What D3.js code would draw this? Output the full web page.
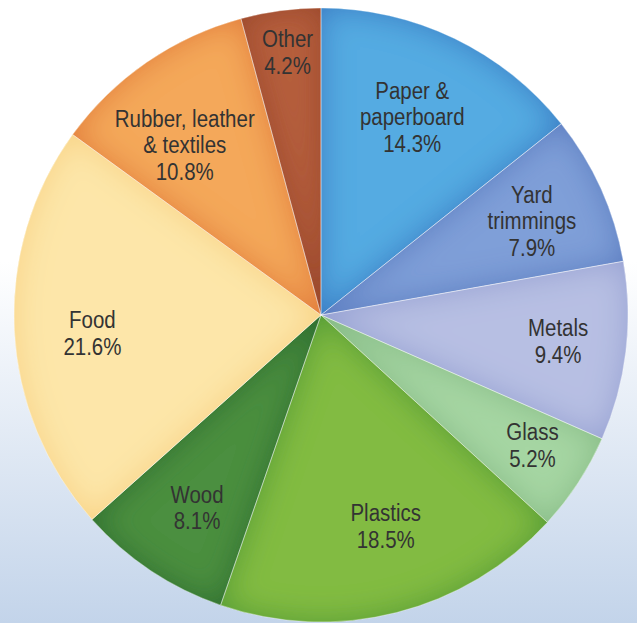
<!DOCTYPE html>
<html>
<head>
<meta charset="utf-8">
<script src="https://cdn.jsdelivr.net/npm/d3@7"></script>
<style>
  html, body { margin: 0; padding: 0; background: #fff; }
  svg { display: block; }
</style>
</head>
<body>
<svg id="chart" width="637" height="623"></svg>
<script>
// Municipal solid waste composition, share of total (%)
const categories = ["Paper & paperboard", "Yard trimmings", "Metals", "Glass", "Plastics", "Wood", "Food", "Rubber, leather & textiles", "Other"];
const values = [14.3, 7.9, 9.4, 5.2, 18.5, 8.1, 21.6, 10.8, 4.2];
const labelLines = [
  ["Paper &", "paperboard", "14.3%"],
  ["Yard", "trimmings", "7.9%"],
  ["Metals", "9.4%"],
  ["Glass", "5.2%"],
  ["Plastics", "18.5%"],
  ["Wood", "8.1%"],
  ["Food", "21.6%"],
  ["Rubber, leather", "& textiles", "10.8%"],
  ["Other", "4.2%"]
];
// fill colour and darker edge tone for each slice
const fills = ["#55abe2", "#7f9fd8", "#b7bfe3", "#a6d6a3", "#82bb42", "#4b8f40", "#fde6a9", "#f4a85a", "#b65f3c"];
const edges = ["#3a78c2", "#5a7cc0", "#95a0d2", "#86bb86", "#4f9a36", "#2d6d30", "#f8d283", "#e17a3a", "#99472c"];
// label placement: distance from centre (fraction of radius) and angular nudge (degrees)
const labelRadius = [0.710, 0.752, 0.777, 0.809, 0.720, 0.746, 0.747, 0.709, 0.862];
const labelShift = [-1.0, 0.3, -0.5, -1.5, -2.8, -0.9, -1.7, -4.2, 0.3];

const W = 637, H = 623;
const cx = 321, cy = 315, R = 307;
const lineH = 26.5, capShift = 8.2, squeeze = 0.89;

const svg = d3.select("#chart");
const defs = svg.append("defs");

// page background: white fading to pale blue
const bg = defs.append("linearGradient").attr("id", "bg")
  .attr("x1", 0).attr("y1", 0).attr("x2", 0).attr("y2", 1);
bg.append("stop").attr("offset", "0%").attr("stop-color", "#ffffff");
bg.append("stop").attr("offset", "42%").attr("stop-color", "#ffffff");
bg.append("stop").attr("offset", "100%").attr("stop-color", "#c3d4ea");
svg.append("rect").attr("width", W).attr("height", H).attr("fill", "url(#bg)");

// inner shading filter per slice: edges darken toward the slice outline
edges.forEach((c, i) => {
  const f = defs.append("filter").attr("id", "shade" + i)
    .attr("x", "-10%").attr("y", "-10%").attr("width", "120%").attr("height", "120%");
  f.append("feGaussianBlur").attr("in", "SourceAlpha").attr("stdDeviation", 16).attr("result", "blur");
  const ct = f.append("feComponentTransfer").attr("in", "blur").attr("result", "inv");
  ct.append("feFuncA").attr("type", "table").attr("tableValues", "1 0");
  f.append("feFlood").attr("flood-color", c).attr("result", "col");
  f.append("feComposite").attr("in", "col").attr("in2", "inv").attr("operator", "in").attr("result", "sh");
  f.append("feComposite").attr("in", "sh").attr("in2", "SourceAlpha").attr("operator", "in").attr("result", "inner");
  const m = f.append("feMerge");
  m.append("feMergeNode").attr("in", "SourceGraphic");
  m.append("feMergeNode").attr("in", "inner");
});

const pie = d3.pie().sort(null).value(d => d)
  .startAngle(0).endAngle(2 * Math.PI);
const arcs = pie(values);
const arc = d3.arc().innerRadius(0).outerRadius(R);

const g = svg.append("g").attr("transform", `translate(${cx},${cy})`);

g.selectAll("path.slice").data(arcs).enter().append("path")
  .attr("class", "slice")
  .attr("d", arc)
  .attr("fill", (d, i) => fills[i])
  .attr("filter", (d, i) => `url(#shade${i})`);

// thin light separators between slices
g.selectAll("path.sep").data(arcs).enter().append("path")
  .attr("class", "sep")
  .attr("d", arc)
  .attr("fill", "none")
  .attr("stroke", "#ffffff")
  .attr("stroke-opacity", 0.45)
  .attr("stroke-width", 0.8);

// labels: one text element per line, centred on a point inside each slice
arcs.forEach((d, i) => {
  const a = (d.startAngle + d.endAngle) / 2 + labelShift[i] * Math.PI / 180;
  const r = R * labelRadius[i];
  const x = r * Math.sin(a), y = -r * Math.cos(a);
  const lines = labelLines[i];
  const n = lines.length;
  const lg = g.append("g").attr("class", "lbl").attr("transform", `translate(${x},${y})`);
  lines.forEach((t, j) => {
    lg.append("text")
      .attr("transform", `translate(0,${(j - (n - 1) / 2) * lineH + capShift}) scale(${squeeze},1)`)
      .attr("text-anchor", "middle")
      .attr("font-family", "'Liberation Sans', Arial, sans-serif")
      .attr("font-size", 23)
      .attr("fill", "#333333")
      .text(t);
  });
});
</script>
</body>
</html>
